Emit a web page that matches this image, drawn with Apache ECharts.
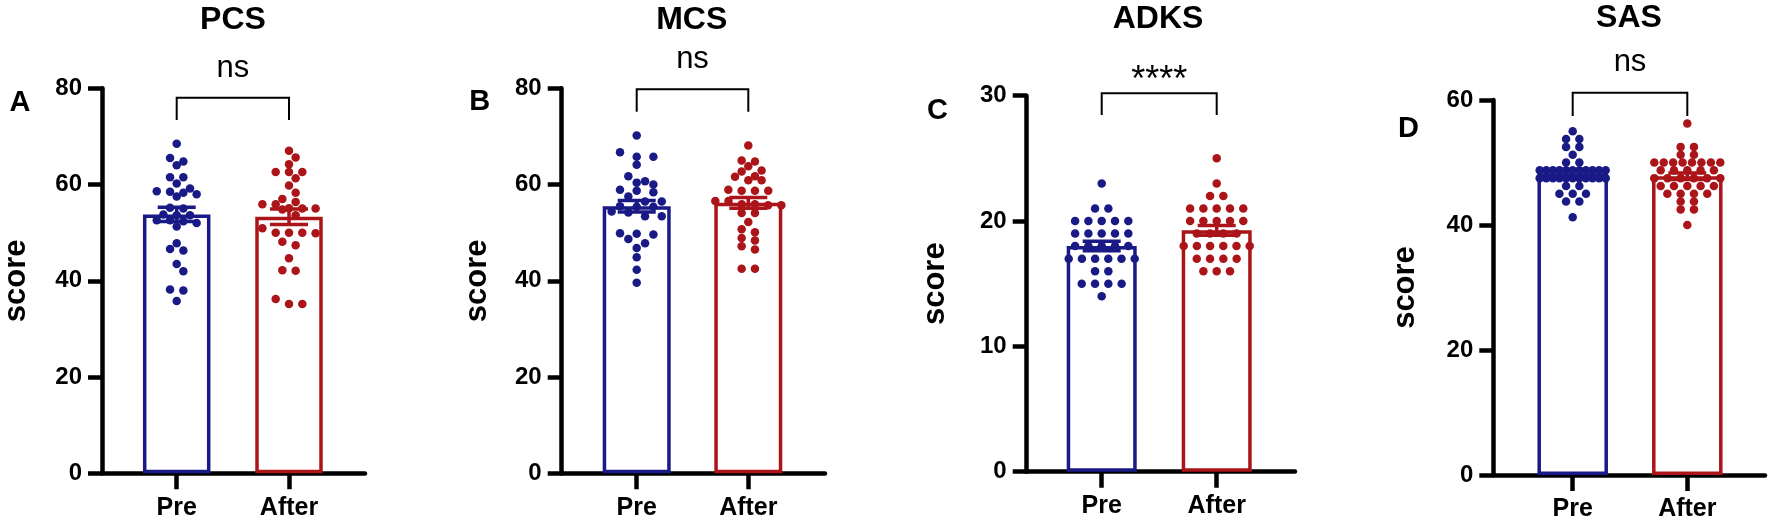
<!DOCTYPE html>
<html>
<head>
<meta charset="utf-8">
<script src="https://cdn.jsdelivr.net/npm/echarts@6/dist/echarts.min.js"></script>
<style>
html,body{margin:0;padding:0;background:#fff;}
#chart{width:1772px;height:532px;}
</style>
</head>
<body>
<div id="chart"></div>
<script>
// ---------------- data ----------------
const categories = ['Pre', 'After'];
const panelTitles = ['PCS', 'MCS', 'ADKS', 'SAS'];
const panelLetters = ['A', 'B', 'C', 'D'];
const sigLabels = ['ns', 'ns', '****', 'ns'];
const yAxisName = 'score';
const yMaxes = [80, 80, 30, 60];
const yIntervals = [20, 20, 10, 20];

const pcsPre = [68.5, 65.5, 64.8, 64.0, 61.5, 61.5, 60.2, 58.0, 58.5, 59.2, 57.5, 58.3, 58.6, 55.2, 55.0, 53.8, 53.6, 53.6, 52.4, 52.6, 52.6, 51.3, 52.0, 47.8, 46.3, 46.6, 43.5, 42.0, 38.2, 38.0, 35.8];
const pcsAfter = [67.0, 65.6, 64.2, 62.6, 62.6, 62.6, 61.3, 59.8, 58.3, 56.4, 57.0, 55.9, 55.9, 54.8, 55.0, 55.1, 55.0, 53.6, 50.9, 49.9, 50.0, 50.0, 50.0, 48.1, 47.4, 44.7, 42.2, 42.1, 36.2, 35.2, 35.2];
const mcsPre = [70.2, 65.8, 66.7, 65.8, 64.1, 61.7, 60.7, 60.4, 60.0, 58.9, 58.4, 58.7, 57.5, 56.5, 56.5, 55.5, 55.4, 55.4, 54.4, 54.2, 53.4, 53.4, 49.9, 49.8, 49.6, 47.8, 48.7, 46.8, 44.9, 42.3, 39.6];
const mcsAfter = [68.1, 64.8, 65.0, 63.8, 62.9, 62.7, 61.7, 60.9, 60.9, 61.6, 58.7, 58.7, 58.7, 58.9, 56.6, 56.6, 55.9, 55.9, 55.7, 55.7, 54.1, 54.1, 52.2, 50.7, 50.1, 48.4, 48.9, 47.2, 46.5, 42.5, 42.5];
const adksPre = [23, 21, 21, 20, 20, 20, 20, 20, 19, 19, 19, 19, 19, 18, 18, 18, 18, 18, 17, 17, 17, 17, 17, 17, 16, 16, 15, 15, 15, 15, 14];
const adksAfter = [25, 23, 22, 22, 21, 21, 21, 21, 21, 20, 20, 20, 20, 20, 19, 19, 19, 19, 18, 18, 18, 18, 18, 18, 17, 17, 17, 17, 16, 16, 16];
const sasPre = [55, 53.75, 53.75, 52.5, 52.5, 51.25, 50, 50,
  48.75, 48.75, 48.75, 48.75, 48.75, 48.75, 48.75, 48.75, 48.75, 48.75, 48.75,
  47.5, 47.5, 47.5, 47.5, 47.5, 47.5, 47.5, 47.5, 47.5, 47.5, 47.5,
  46.25, 46.25, 45, 45, 45, 43.75, 43.75, 41.25];
const sasAfter = [56.25, 52.5, 52.5, 51.25, 51.25, 50, 50, 50, 50, 50, 50, 50, 50,
  48.75, 48.75, 48.75, 48.75, 48.75, 47.5, 47.5, 47.5, 47.5, 47.5, 47.5,
  46.25, 46.25, 46.25, 46.25, 46.25, 45, 45, 45, 45, 43.75, 43.75, 42.5, 42.5, 40];

const meanPre = [53.8, 55.5, 18.0, 48.3];
const meanAfter = [53.3, 56.2, 19.26, 47.8];
const semPre = [1.5, 1.2, 0.38, 0.46];
const semAfter = [1.6, 1.1, 0.39, 0.52];

const groupValues = [[pcsPre, pcsAfter], [mcsPre, mcsAfter], [adksPre, adksAfter], [sasPre, sasAfter]];

// ---------------- layout / style ----------------
const BLUE = '#1a1a86';
const RED = '#ab1418';
const FONT = '"Liberation Sans", Arial, Helvetica, sans-serif';
const layout = [
  {axisX: 101.7, endX: 365, top: 88.3, bottom: 473.3, preX: 176.7, afterX: 289, barW: 67.5, nameGap: 70, brTop: 97.7, brBot: 120, sigY: 68.3, titleX: 233, titleY: 20, letterX: 20, letterY: 102.5, steps: [13.3, 13.3]},
  {axisX: 561.7, endX: 825, top: 88.3, bottom: 473.3, preX: 636.7, afterX: 748.3, barW: 68, nameGap: 69, brTop: 89.3, brBot: 111.7, sigY: 59.3, titleX: 691.7, titleY: 20, letterX: 479.7, letterY: 101.7, steps: [16.7, 13.3]},
  {axisX: 1026.7, endX: 1295, top: 95.7, bottom: 471.7, preX: 1101.7, afterX: 1216.7, barW: 70, nameGap: 76, brTop: 93.3, brBot: 115, sigY: 80.8, titleX: 1158, titleY: 18.7, letterX: 937.5, letterY: 111, steps: [13.3, 13.3]},
  {axisX: 1493.3, endX: 1765, top: 100, bottom: 475, preX: 1572.7, afterX: 1687.3, barW: 70.5, nameGap: 72, brTop: 92.7, brBot: 116, sigY: 62.6, titleX: 1629, titleY: 18.3, letterX: 1408.5, letterY: 129, steps: [13.3, 13.3]}
];
const DOT = 8.5;
const MAXSPAN = 66;

// beeswarm layout (GraphPad-like rows), returns [xOffsetPx, value]
function swarm(values, pxPerUnit, step, binPx, minDist) {
  const sorted = values.slice().sort((a, b) => b - a);
  const rows = [];
  let cur = null;
  for (const v of sorted) {
    if (!cur || (cur.start - v) * pxPerUnit > binPx) { cur = {start: v, vals: []}; rows.push(cur); }
    cur.vals.push(v);
  }
  const placed = [];
  const out = [];
  for (const r of rows) {
    const n = r.vals.length;
    const st = n > 1 ? Math.min(step, MAXSPAN / (n - 1)) : step;
    let best = null, bestCost = Infinity;
    for (const shift of [0, st / 2, -st / 2]) {
      const pts = r.vals.map((v, i) => ({x: (i - (n - 1) / 2) * st + shift, y: v * pxPerUnit}));
      let cost = 0;
      for (const p of pts) for (const q of placed) {
        const d = Math.hypot(p.x - q.x, p.y - q.y);
        if (d < minDist) cost += minDist - d;
      }
      if (Math.abs(shift) > 0) cost += 0.01;
      if (cost < bestCost) { bestCost = cost; best = pts; }
    }
    best.forEach((p, i) => { placed.push(p); out.push([p.x, r.vals[i]]); });
  }
  return out;
}

const grids = [], xAxes = [], yAxes = [], series = [], graphics = [];
const colors = [BLUE, RED];

layout.forEach((L, p) => {
  const h = L.bottom - L.top;
  const spacing = L.afterX - L.preX;
  const yMax = yMaxes[p];
  grids.push({left: L.axisX, top: L.top, width: L.endX - L.axisX, height: h});
  grids.push({left: L.preX - spacing / 2, top: L.top, width: spacing * 2, height: h});
  const gF = 2 * p, gD = 2 * p + 1;
  const xF = xAxes.length;
  xAxes.push({type: 'value', gridIndex: gF, min: 0, max: 1,
    axisLine: {show: true, lineStyle: {color: '#000', width: 4.5}},
    axisTick: {show: false}, axisLabel: {show: false}, splitLine: {show: false}});
  const xC = xAxes.length;
  xAxes.push({type: 'category', gridIndex: gD, data: categories,
    axisLine: {show: false},
    axisTick: {show: true, alignWithLabel: true, length: 16, lineStyle: {color: '#000', width: 4.5}},
    axisLabel: {show: true, margin: 22, color: '#000', fontSize: 25, fontWeight: 'bold', fontFamily: FONT},
    splitLine: {show: false}});
  const xV = xAxes.length;
  xAxes.push({type: 'value', gridIndex: gD, position: 'top', min: -0.5, max: 1.5, show: false});
  const yF = yAxes.length;
  yAxes.push({type: 'value', gridIndex: gF, min: 0, max: yMax, interval: yIntervals[p],
    axisLine: {show: true, lineStyle: {color: '#000', width: 4.5}},
    axisTick: {show: true, length: 14, lineStyle: {color: '#000', width: 4.5}},
    axisLabel: {show: true, margin: 20, color: '#000', fontSize: 24, fontWeight: 'bold', fontFamily: FONT},
    splitLine: {show: false},
    name: yAxisName, nameLocation: 'middle', nameGap: L.nameGap, nameRotate: 90,
    nameTextStyle: {color: '#000', fontSize: 31, fontWeight: 'bold', fontFamily: FONT}});
  const yD = yAxes.length;
  yAxes.push({type: 'value', gridIndex: gD, min: 0, max: yMax, show: false});

  series.push({type: 'bar', xAxisIndex: xC, yAxisIndex: yD, barWidth: L.barW, z: 2,
    data: [
      {value: meanPre[p], itemStyle: {color: 'rgba(255,255,255,0)', borderColor: BLUE, borderWidth: 3.5}},
      {value: meanAfter[p], itemStyle: {color: 'rgba(255,255,255,0)', borderColor: RED, borderWidth: 3.5}}
    ], silent: true});

  const pxPerUnit = h / yMax;
  groupValues[p].forEach((vals, gi) => {
    const sw = swarm(vals, pxPerUnit, L.steps[gi], 5, 7.6);
    series.push({type: 'scatter', xAxisIndex: xV, yAxisIndex: yD, symbol: 'circle', symbolSize: DOT, z: 3,
      itemStyle: {color: colors[gi], opacity: 1},
      data: sw.map(d => [gi + d[0] / spacing, d[1]]), silent: true});
  });

  series.push({type: 'custom', xAxisIndex: xC, yAxisIndex: yD, z: 4, clip: false, silent: true,
    data: [[0, meanPre[p], semPre[p]], [1, meanAfter[p], semAfter[p]]],
    encode: {x: 0, y: 1},
    renderItem: function (params, api) {
      const i = api.value(0), m = api.value(1), s = api.value(2);
      const t = api.coord([i, m + s]), b = api.coord([i, m - s]);
      const hw = 19, c = colors[i];
      const st = {stroke: c, lineWidth: 3.5};
      return {type: 'group', children: [
        {type: 'line', shape: {x1: t[0], y1: t[1], x2: b[0], y2: b[1]}, style: st},
        {type: 'line', shape: {x1: t[0] - hw, y1: t[1], x2: t[0] + hw, y2: t[1]}, style: st},
        {type: 'line', shape: {x1: b[0] - hw, y1: b[1], x2: b[0] + hw, y2: b[1]}, style: st}
      ]};
    }});

  series.push({type: 'custom', xAxisIndex: xC, yAxisIndex: yD, z: 4, clip: false, silent: true,
    data: [[0, 0]], encode: {x: 0, y: 1},
    renderItem: function (params, api) {
      const a = api.coord([0, 0])[0], b = api.coord([1, 0])[0];
      const st = {stroke: '#000', lineWidth: 2};
      const isStar = sigLabels[p] === '****';
      return {type: 'group', children: [
        {type: 'polyline', shape: {points: [[a, L.brBot], [a, L.brTop], [b, L.brTop], [b, L.brBot]]}, style: Object.assign({fill: null}, st)},
        {type: 'text', style: {text: sigLabels[p], x: (a + b) / 2, y: L.sigY, align: 'center', verticalAlign: 'middle',
          fill: '#000', fontSize: isStar ? 36 : 31, fontFamily: FONT, fontWeight: 'normal'}}
      ]};
    }});

  graphics.push({type: 'text', x: L.titleX, y: L.titleY, style: {text: panelTitles[p], align: 'center', verticalAlign: 'middle', fill: '#000', fontSize: 32, fontWeight: 'bold', fontFamily: FONT}});
  graphics.push({type: 'text', x: L.letterX, y: L.letterY, style: {text: panelLetters[p], align: 'center', verticalAlign: 'middle', fill: '#000', fontSize: 29, fontWeight: 'bold', fontFamily: FONT}});
});

const chart = echarts.init(document.getElementById('chart'), null, {renderer: 'canvas'});
chart.setOption({
  backgroundColor: '#fff',
  animation: false,
  grid: grids,
  xAxis: xAxes,
  yAxis: yAxes,
  series: series,
  graphic: graphics
});
</script>
</body>
</html>
